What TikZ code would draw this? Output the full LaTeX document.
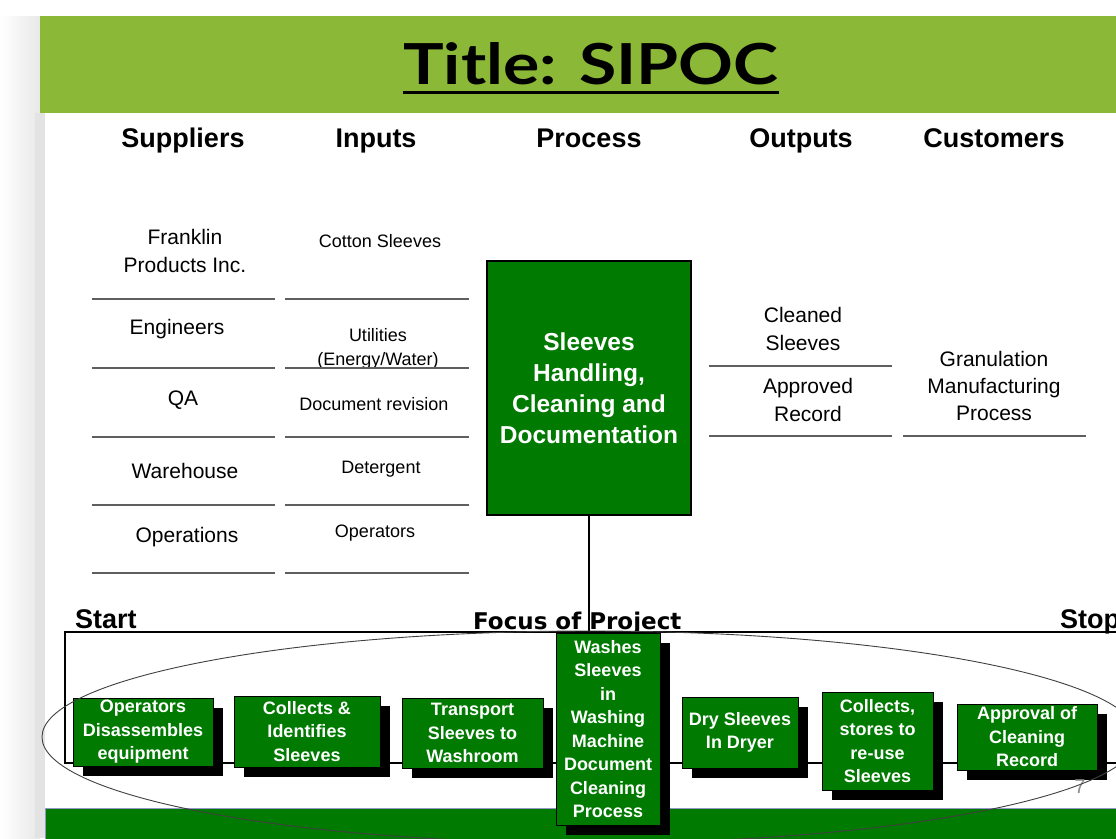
\documentclass[tikz,border=0pt]{standalone}
\usepackage{fontspec}
\setmainfont{Liberation Sans}
\newfontfamily\titlefont{Lato}
\newfontfamily\focusfont{DejaVu Sans}
\usetikzlibrary{shadows}
\definecolor{titlegreen}{RGB}{139,184,54}
\definecolor{boxgreen}{RGB}{0,122,0}
\definecolor{sepgray}{RGB}{95,95,95}
\definecolor{barline}{RGB}{150,150,200}
\begin{document}
\begin{tikzpicture}[x=1pt,y=-1pt,
  hdr/.style={font=\fontsize{27}{32}\selectfont\bfseries, anchor=base, inner sep=0pt},
  suptext/.style={font=\fontsize{21}{28}\selectfont, align=center, inner sep=0pt},
  inptext/.style={font=\fontsize{18}{24}\selectfont, align=center, inner sep=0pt},
  custtext/.style={font=\fontsize{21}{27}\selectfont, align=center, inner sep=0pt},
  sep/.style={draw=sepgray, line width=1.3pt},
  frame/.style={draw=black, line width=1.8pt},
  procbox/.style={fill=boxgreen, draw=black, line width=2pt, text=white, align=center,
    minimum width=204pt, minimum height=254pt, inner sep=0pt,
    font=\fontsize{24.5}{31}\selectfont\bfseries},
  stepbox/.style={fill=boxgreen, draw=black, line width=0.8pt, text=white, align=center,
    inner sep=0pt, font=\fontsize{18}{23.5}\selectfont\bfseries,
    general shadow={fill=black, shadow xshift=9.5pt, shadow yshift=-10pt}},
  marker/.style={font=\fontsize{27}{32}\selectfont\bfseries, anchor=base west, inner sep=0pt}
]
\useasboundingbox (0,0) rectangle (1116,838);
\clip (0,0) rectangle (1116,838);
% background
\fill[white] (0,0) rectangle (1116,838);
\shade[left color=white, right color=black!9] (0,16) rectangle (40,838);
\fill[black!11] (35,113) rectangle (45,838);
% title bar
\fill[titlegreen] (40,16) rectangle (1116,113);
\node[inner sep=0pt] (title) at (591,64) {\resizebox{375pt}{42pt}{\titlefont\bfseries Title: SIPOC}};
\draw[line width=3pt] ([yshift=-7pt]title.south west) -- ([yshift=-7pt]title.south east);
% headers
\node[hdr] (hS) at (183,147) {Suppliers};
\node[hdr] (hI) at (376,147) {Inputs};
\node[hdr] (hP) at (589,147) {Process};
\node[hdr] (hO) at (801,147) {Outputs};
\node[hdr] (hC) at (994,147) {Customers};
% suppliers
\node[suptext] (s1) at (185,251) {Franklin\\Products Inc.};
\node[suptext] (s2) at (177,329) {Engineers};
\node[suptext] (s3) at (183,400) {QA};
\node[suptext] (s4) at (185,471) {Warehouse};
\node[suptext] (s5) at (187,537) {Operations};
% inputs
\node[inptext] (i1) at (380,241) {Cotton Sleeves};
\node[inptext] (i2) at (378,349) {Utilities\\(Energy/Water)};
\node[inptext] (i3) at (374,404) {Document revision};
\node[inptext] (i4) at (381,469) {Detergent};
\node[inptext] (i5) at (375,533) {Operators};
% outputs
\node[suptext] (o1) at (803,329) {Cleaned\\Sleeves};
\node[suptext] (o2) at (808,400) {Approved\\Record};
% customers
\node[custtext] (c1) at (994,386) {Granulation\\Manufacturing\\Process};
% separators
\foreach \yy in {299,368,437,505,573}{
  \draw[sep] (92,\yy) -- (275,\yy);
  \draw[sep] (285,\yy) -- (469,\yy);
}
\draw[sep] (709,366) -- (892,366);
\draw[sep] (709,436) -- (892,436);
\draw[sep] (903,436) -- (1086,436);
% process box
\node[procbox] (proc) at (589,388) {Sleeves\\Handling,\\Cleaning and\\Documentation};
% frame
\coordinate (ftop) at (589,632);
\coordinate (fr1) at (1130,632);
\coordinate (fr2) at (65,632);
\coordinate (fr3) at (65,763);
\coordinate (fr4) at (1130,763);
\draw[frame] (proc.south) -- (ftop);
\draw[frame] (fr1) -- (fr2) -- (fr3) -- (fr4);
\node[marker] (start) at (75,628) {Start};
\node[marker, font=\focusfont\fontsize{23}{28}\selectfont\bfseries] (focus) at (473,629) {Focus of Project};
\node[marker] (stop) at (1060,628) {Stop};
% bottom bar
\draw[fill=boxgreen, draw=barline, line width=0.8pt] (45,808) rectangle (1125,845);
% step boxes
\node[stepbox, minimum width=140pt, minimum height=68pt] (b1) at (143,732) {Operators\\Disassembles\\equipment};
\node[stepbox, minimum width=146pt, minimum height=71pt] (b2) at (307,731.5) {Collects \&\\Identifies\\Sleeves};
\node[stepbox, minimum width=141pt, minimum height=70pt] (b3) at (472.5,733) {Transport\\Sleeves to\\Washroom};
\node[stepbox, minimum width=104pt, minimum height=192pt] (b4) at (608,729) {Washes\\Sleeves\\in\\Washing\\Machine\\Document\\Cleaning\\Process};
\node[stepbox, minimum width=116pt, minimum height=71pt] (b5) at (740,732.5) {Dry Sleeves\\In Dryer};
\node[stepbox, minimum width=111pt, minimum height=98pt] (b6) at (877.5,741) {Collects,\\stores to\\re-use\\Sleeves};
\node[stepbox, minimum width=140pt, minimum height=66pt] (b7) at (1027,737) {Approval of\\Cleaning\\Record};
% slide number
\node[text=black!45, font=\fontsize{20}{24}\selectfont, inner sep=0pt] (num) at (1080,787) {7};
% focus ellipse
\draw[black!75, line width=0.9pt] (590,737) ellipse [x radius=548pt, y radius=106pt];
\end{tikzpicture}
\end{document}
